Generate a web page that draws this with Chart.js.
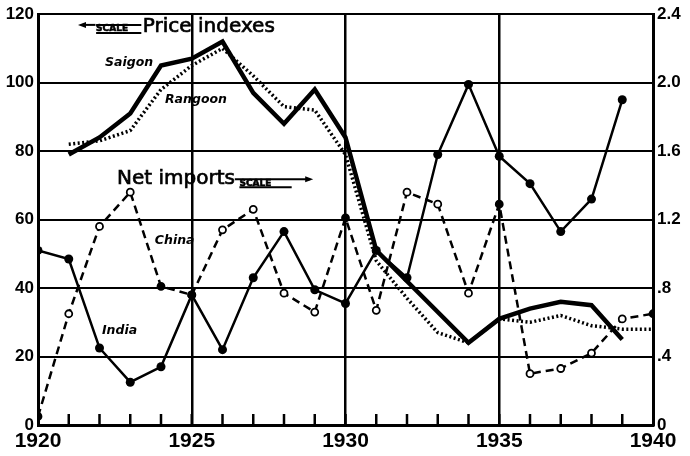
<!DOCTYPE html>
<html>
<head>
<meta charset="utf-8">
<script src="https://cdn.jsdelivr.net/npm/chart.js@4/dist/chart.umd.min.js"></script>
<style>
html,body{margin:0;padding:0;background:#fff;}
#wrap{width:690px;height:456px;}
</style>
</head>
<body>
<div id="wrap"><canvas id="c" width="690" height="456"></canvas></div>
<script>
// ---- data ----
const years = [1920,1921,1922,1923,1924,1925,1926,1927,1928,1929,1930,1931,1932,1933,1934,1935,1936,1937,1938,1939,1940];
// Price indexes (left scale)
const saigon  = [null,79,84,91,105,107,112,97,88,98,84,51,42,33,24,31,34,36,35,25,null];
const rangoon = [null,82,83,86,98,105,110,102,93,92,79,48,37,27,24,31,30,32,29,28,28];
// Net imports (right scale)
const india = [1.02,0.97,0.45,0.25,0.34,0.76,0.44,0.86,1.13,0.79,0.71,1.02,0.86,1.58,1.99,1.57,1.41,1.13,1.32,1.90,null];
const china = [0.05,0.65,1.16,1.36,0.81,0.76,1.14,1.26,0.77,0.66,1.21,0.67,1.36,1.29,0.77,1.29,0.30,0.33,0.42,0.62,0.65];
const leftTicks = [0,20,40,60,80,100,120];
const rightTicks = [0,0.4,0.8,1.2,1.6,2.0,2.4];
const yearLabels = [1920,1925,1930,1935,1940];
const gridYears = [1925,1930,1935];

const toXY = (arr) => years.map((y,i)=>({x:y,y:arr[i]}));
const chinaFill = years.map(y => [1920,1924,1925,1930,1935,1940].includes(y) ? '#000' : '#fff');

const FONT = "'DejaVu Sans', sans-serif";

function boldText(ctx, t, px, py, w){
  ctx.fillText(t, px, py);
  ctx.lineWidth = w; ctx.strokeText(t, px, py);
}

const labelsPlugin = {
  id:'labels',
  afterDraw(chart){
    const ctx = chart.ctx;
    const xs = chart.scales.x, ys = chart.scales.y;
    ctx.save();
    ctx.setLineDash([]);
    ctx.strokeStyle='#000'; ctx.fillStyle='#000';
    // minor year ticks, upward from the axis line
    const base = ys.getPixelForValue(0);
    for (let i = 1; i < years.length - 1; i++){
      const px = xs.getPixelForValue(years[i]);
      ctx.fillRect(px - 1.25, base - 11, 2.5, 11);
    }
    ctx.textBaseline='middle';
    const X = v => xs.getPixelForValue(v), Y = v => ys.getPixelForValue(v);
    // Price indexes title with left arrow SCALE
    ctx.font = "20px "+FONT;
    boldText(ctx,'Price indexes', X(1923.41), Y(116.4), 0.7);
    let ay = Y(116.0)-1;
    ctx.lineWidth=2;
    ctx.beginPath(); ctx.moveTo(X(1921.30)+4, ay-2); ctx.lineTo(X(1921.87), ay-2); ctx.stroke();
    ctx.beginPath(); ctx.moveTo(X(1921.30), ay-2); ctx.lineTo(X(1921.30)+8, ay-5); ctx.lineTo(X(1921.30)+8, ay+1); ctx.closePath(); ctx.fill();
    ctx.font = "bold 9px "+FONT;
    boldText(ctx,'SCALE', X(1921.89), ay+2, 0.6);
    ctx.lineWidth=2;
    ctx.beginPath(); ctx.moveTo(X(1921.89), ay+6); ctx.lineTo(X(1923.36), ay+6); ctx.stroke();
    ctx.beginPath(); ctx.moveTo(X(1921.89), ay-2); ctx.lineTo(X(1923.36), ay-2); ctx.stroke();
    // Net imports with right arrow SCALE
    ctx.font = "20px "+FONT;
    boldText(ctx,'Net imports', X(1922.57), Y(71.8), 0.7);
    let by = Y(71.2);
    ctx.lineWidth=2;
    ctx.beginPath(); ctx.moveTo(X(1926.40), by-2); ctx.lineTo(X(1928.85), by-2); ctx.stroke();
    ctx.beginPath(); ctx.moveTo(X(1928.95), by-2); ctx.lineTo(X(1928.95)-8, by-5); ctx.lineTo(X(1928.95)-8, by+1); ctx.closePath(); ctx.fill();
    ctx.font = "bold 9px "+FONT;
    boldText(ctx,'SCALE', X(1926.55), by+2, 0.6);
    ctx.lineWidth=2;
    ctx.beginPath(); ctx.moveTo(X(1926.55), by+6); ctx.lineTo(X(1928.25), by+6); ctx.stroke();
    // series labels
    ctx.font = "italic bold 12.5px "+FONT;
    ctx.fillText('Saigon', X(1922.18), Y(105.7));
    ctx.fillText('Rangoon', X(1924.13), Y(94.9));
    ctx.fillText('China', X(1923.80), Y(53.7));
    ctx.fillText('India', X(1922.08), Y(27.4));
    ctx.restore();
  }
};

new Chart(document.getElementById('c'), {
  type:'line',
  data:{
    datasets:[
      {label:'Saigon', data:toXY(saigon), yAxisID:'y', borderColor:'#000', borderWidth:4.5, pointRadius:0, tension:0, spanGaps:false, order:1},
      {label:'Rangoon', data:toXY(rangoon), yAxisID:'y', borderColor:'#000', borderWidth:3.5, borderDash:[2,2.5], pointRadius:0, tension:0, order:2},
      {label:'India', data:toXY(india), yAxisID:'y2', borderColor:'#000', borderWidth:2.5, pointRadius:4.5, pointBackgroundColor:'#000', pointBorderColor:'#000', pointBorderWidth:0, tension:0, order:3},
      {label:'China', data:toXY(china), yAxisID:'y2', borderColor:'#000', borderWidth:2.5, borderDash:[8,5], pointRadius:3.5, pointBackgroundColor:chinaFill, pointBorderColor:'#000', pointBorderWidth:1.8, tension:0, order:4}
    ]
  },
  options:{
    responsive:false,
    animation:false,
    events:[],
    layout:{padding:{top:14,left:0,right:0,bottom:0}},
    plugins:{legend:{display:false}, tooltip:{enabled:false}},
    scales:{
      x:{
        type:'linear', min:1920, max:1940, position:'bottom',
        afterBuildTicks(s){ s.ticks = years.map(v=>({value:v})); },
        afterFit(s){ s.height = 31; },
        ticks:{autoSkip:false, maxRotation:0, padding:4, color:'#000',
          font:{family:"'Liberation Sans', Arial, sans-serif", weight:'bold', size:21},
          callback:(v)=> yearLabels.includes(v) ? String(v) : ''},
        grid:{drawTicks:false, lineWidth:2.5,
          color:(c)=> (c.tick && gridYears.includes(c.tick.value)) ? '#000' : 'rgba(0,0,0,0)'},
        border:{display:true, color:'#000', width:3}
      },
      y:{
        type:'linear', position:'left', min:0, max:120,
        afterBuildTicks(s){ s.ticks = leftTicks.map(v=>({value:v})); },
        afterFit(s){ s.width = 38; },
        ticks:{padding:4, color:'#000', font:{family:"'Liberation Sans', Arial, sans-serif", weight:'bold', size:17}},
        grid:{drawTicks:false, lineWidth:2, color:'#000'},
        border:{display:true, color:'#000', width:3}
      },
      y2:{
        type:'linear', position:'right', min:0, max:2.4,
        afterBuildTicks(s){ s.ticks = rightTicks.map(v=>({value:v})); },
        afterFit(s){ s.width = 37; },
        ticks:{padding:4, color:'#000', font:{family:"'Liberation Sans', Arial, sans-serif", weight:'bold', size:17},
          callback:(v)=>{ const r=Math.round(v*10)/10; if(r===0) return '0'; return r<1 ? '.'+Math.round(r*10) : r.toFixed(1); }},
        grid:{drawOnChartArea:false, drawTicks:false},
        border:{display:true, color:'#000', width:3}
      }
    }
  },
  plugins:[labelsPlugin]
});
</script>
</body>
</html>
